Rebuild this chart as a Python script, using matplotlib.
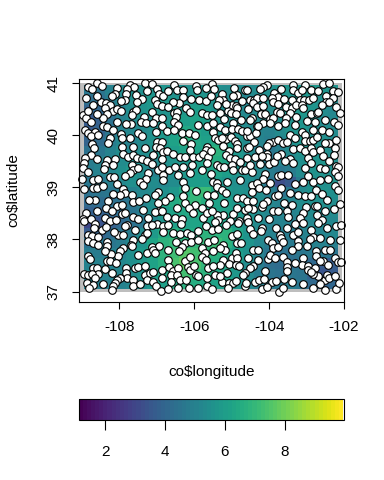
import numpy as np
import matplotlib
matplotlib.use("Agg")
import matplotlib.pyplot as plt
from matplotlib.patches import Rectangle
from matplotlib.cm import ScalarMappable
from matplotlib.colors import Normalize

plt.rcParams['font.family'] = ['Liberation Sans', 'DejaVu Sans']

# surface, north to south
surface = [
 [4.6,4.5,5.0,5.4,5.5,5.5,5.6,5.7,5.5,5.5,5.6,5.6,5.5,5.4,5.4,5.3,5.3,5.5,5.6,5.7,5.7,5.8,5.7,5.6],
 [4.3,4.3,4.8,5.2,5.5,5.6,5.8,5.8,5.6,5.5,5.8,5.8,5.6,5.4,5.3,5.1,5.2,5.5,5.6,5.6,5.7,5.7,5.5,5.3],
 [3.9,4.0,4.6,5.0,5.4,5.6,5.8,5.6,5.6,5.8,6.0,5.9,5.6,5.4,5.3,5.2,5.3,5.4,5.5,5.7,5.8,5.7,5.4,5.2],
 [3.6,3.8,4.4,5.0,5.3,5.5,5.5,5.6,5.8,6.0,6.2,6.0,5.7,5.5,5.4,5.3,5.3,5.3,5.4,5.6,5.7,5.5,5.3,5.2],
 [3.6,3.9,4.6,5.0,5.2,5.3,5.5,5.8,6.0,6.4,6.3,6.0,5.8,5.6,5.5,5.3,5.1,5.0,5.3,5.6,5.7,5.5,5.4,5.3],
 [3.9,4.2,4.8,5.2,5.0,5.3,5.6,5.8,6.2,6.8,6.4,6.1,6.5,6.0,5.6,5.3,5.1,4.9,5.1,5.5,5.7,5.6,5.5,5.3],
 [4.4,4.6,5.0,5.4,5.2,5.4,5.5,5.8,6.0,6.2,6.2,6.3,6.8,6.3,5.8,5.4,4.9,4.6,4.9,5.3,5.6,5.6,5.5,5.4],
 [4.8,5.0,5.2,5.4,5.5,5.4,5.2,5.5,5.7,5.8,6.0,6.3,6.6,6.3,5.8,5.6,5.1,4.8,5.1,5.3,5.5,5.6,5.7,5.5],
 [4.8,5.0,5.2,5.5,5.8,5.4,5.0,5.2,5.5,5.8,6.0,6.2,6.3,6.0,5.7,5.5,5.3,4.8,4.6,4.8,5.3,5.6,5.6,5.5],
 [4.6,4.6,4.9,5.2,5.5,5.6,5.4,5.2,5.4,5.7,6.0,6.0,6.0,5.7,5.5,5.4,5.2,4.5,3.2,3.6,4.8,5.5,5.5,5.6],
 [4.4,4.5,4.6,4.8,5.0,5.2,5.3,5.5,5.8,6.4,7.0,7.1,6.3,5.8,5.6,5.5,5.4,4.9,4.4,4.7,5.3,5.6,5.6,5.5],
 [4.1,4.2,4.3,4.4,4.6,5.0,5.5,6.2,6.5,6.8,7.0,6.6,6.2,6.0,5.8,5.6,5.4,5.2,5.0,5.1,5.4,5.5,5.5,5.4],
 [3.8,3.8,4.0,4.2,4.5,4.8,5.4,5.9,6.2,6.4,6.5,6.3,6.2,6.1,5.8,5.6,5.4,5.2,5.1,5.0,5.2,5.3,5.3,5.3],
 [3.0,3.4,3.8,4.1,4.4,4.6,5.2,5.7,6.1,6.1,6.3,6.3,6.3,6.2,5.9,5.6,5.3,5.0,5.0,4.9,5.1,5.2,5.2,5.2],
 [3.6,3.8,4.2,4.5,4.8,5.3,5.9,6.5,6.7,6.4,6.5,6.8,6.8,6.8,6.3,5.7,5.4,5.0,4.8,4.8,5.0,5.1,5.1,5.2],
 [4.4,4.5,4.6,4.8,5.2,5.7,6.3,6.8,7.0,6.8,7.0,7.0,7.2,6.8,6.2,5.7,5.2,4.8,4.6,4.7,4.9,5.0,5.0,4.9],
 [4.8,4.8,4.9,5.0,5.5,5.9,6.4,6.8,7.2,7.6,7.3,6.9,6.7,6.3,6.0,5.6,5.0,4.6,4.4,4.4,4.6,4.7,4.6,4.5],
 [5.0,5.0,5.0,5.2,5.5,5.8,6.2,6.7,7.4,7.8,7.4,6.9,6.6,6.3,6.0,5.4,4.8,4.3,4.2,4.3,4.4,4.1,3.6,3.7],
 [5.1,5.0,5.0,5.1,5.3,5.6,6.0,6.4,6.9,7.3,7.0,6.8,6.4,6.2,5.8,5.3,4.8,4.5,4.4,4.6,4.5,3.9,3.4,3.6],
 [5.0,4.9,4.9,5.0,5.2,5.4,5.8,6.1,6.5,6.7,6.6,6.4,6.2,6.0,5.6,5.2,4.9,4.7,4.7,4.8,4.6,4.1,3.9,4.0],
]

# (longitude, latitude) of the stations, one list per quarter of the map
stations_nw = [
 (-108.59,41.01),(-108.47,40.95),(-108.83,40.92),(-108.74,40.88),(-108.88,40.71),(-108.07,40.90),(-107.72,40.97),(-107.60,40.92),
 (-107.79,40.88),(-107.31,41.00),(-107.13,40.98),(-106.53,40.97),(-106.45,40.87),(-106.29,40.87),(-106.99,40.88),(-106.93,40.79),
 (-105.96,40.95),(-105.94,40.87),(-108.12,40.79),(-108.20,40.76),(-107.82,40.79),(-107.56,40.77),(-107.85,40.68),(-106.29,40.74),
 (-106.40,40.62),(-106.56,40.63),(-106.83,40.76),(-107.41,40.69),(-107.52,40.63),(-107.05,40.67),(-106.99,40.60),(-106.87,40.56),
 (-105.87,40.68),(-105.70,40.65),(-108.71,40.58),(-108.50,40.63),(-108.37,40.62),(-108.25,40.58),(-108.39,40.52),(-108.16,40.47),
 (-108.06,40.50),(-107.97,40.47),(-108.34,40.40),(-108.45,40.33),(-108.96,40.39),(-108.90,40.34),(-108.77,40.25),(-108.07,40.25),
 (-107.63,40.45),(-107.56,40.49),(-107.67,40.38),(-107.69,40.22),(-107.82,40.21),(-107.34,40.36),(-107.43,40.26),(-107.29,40.23),
 (-107.14,40.44),(-107.02,40.33),(-106.87,40.34),(-107.10,40.23),(-106.87,40.17),(-106.54,40.42),(-106.47,40.44),(-106.49,40.35),
 (-106.54,40.26),(-106.43,40.20),(-106.22,40.52),(-106.12,40.44),(-105.80,40.42),(-105.65,40.39),(-105.89,40.20),(-105.67,40.17),
 (-108.43,40.17),(-108.32,40.15),(-108.16,40.10),(-108.92,40.10),(-108.83,40.04),(-108.65,40.06),(-108.77,39.99),(-108.56,40.01),
 (-107.01,40.07),(-106.74,40.08),(-106.53,40.10),(-106.34,40.04),(-106.13,40.04),(-105.98,40.01),(-107.96,40.03),(-107.94,39.94),
 (-107.50,40.04),(-107.41,39.99),(-107.72,39.94),(-108.25,39.94),(-108.30,39.86),(-107.94,39.78),(-108.74,39.83),(-108.68,39.75),
 (-106.31,39.89),(-106.99,39.88),(-106.87,39.87),(-106.10,39.83),(-106.12,39.72),(-105.65,39.77),(-105.69,39.72),(-107.63,39.78),
 (-107.31,39.76),(-107.01,39.77),(-106.92,39.75),(-107.10,39.62),(-106.83,39.67),(-106.72,39.70),(-106.56,39.65),(-106.38,39.58),
 (-106.25,39.58),(-106.04,39.59),(-105.87,39.58),(-105.76,39.65),(-105.64,39.58),(-108.77,39.62),(-108.92,39.56),(-108.95,39.46),
 (-108.96,39.37),(-108.34,39.53),(-108.12,39.54),(-108.39,39.43),(-108.41,39.35),(-108.16,39.43),(-107.90,39.64),(-107.76,39.59),
 (-107.63,39.62),(-107.54,39.57),(-107.41,39.54),(-107.27,39.51),(-107.14,39.44),(-107.67,39.43),(-107.63,39.33),(-106.96,39.33),
 (-106.87,39.40),(-106.67,39.33),(-106.52,39.40),(-106.43,39.24),(-106.07,39.43),(-105.67,39.46),(-105.80,39.33),(-107.72,39.27),
 (-107.85,39.22),(-107.23,39.27),(-107.29,39.16),(-106.83,39.24),(-106.83,39.14),(-106.12,39.27),(-106.31,39.11),(-108.70,39.14),
 (-108.56,39.17),(-108.25,39.20),(-108.15,39.20),(-109.00,39.17),(-107.45,39.11),(-108.07,39.07),
]
stations_ne = [
 (-105.54,40.99),(-105.47,40.88),(-104.94,40.90),(-104.65,40.87),(-104.58,40.86),(-104.05,40.97),(-104.16,40.93),(-104.25,40.88),
 (-103.37,40.97),(-103.04,40.97),(-102.55,40.99),(-102.39,41.00),(-103.36,40.87),(-103.22,40.81),(-103.13,40.87),(-102.87,40.87),
 (-102.48,40.76),(-102.30,40.85),(-102.15,40.84),(-102.29,40.71),(-103.69,40.88),(-103.87,40.82),(-103.76,40.74),(-103.93,40.71),
 (-105.27,40.79),(-104.87,40.77),(-104.97,40.76),(-105.22,40.67),(-105.33,40.67),(-105.40,40.58),(-104.73,40.66),(-105.00,40.58),
 (-104.89,40.56),(-104.85,40.52),(-104.51,40.67),(-104.41,40.67),(-104.33,40.71),(-104.42,40.61),(-104.32,40.55),(-104.16,40.71),
 (-104.16,40.56),(-103.91,40.63),(-103.40,40.68),(-103.18,40.68),(-103.06,40.68),(-102.93,40.68),(-103.55,40.54),(-103.40,40.52),
 (-103.28,40.58),(-103.13,40.58),(-102.47,40.63),(-102.39,40.63),(-102.22,40.54),(-102.84,40.71),(-104.56,40.50),(-105.30,40.42),
 (-105.09,40.47),(-105.03,40.42),(-105.54,40.39),(-105.49,40.24),(-105.21,40.31),(-104.89,40.40),(-104.23,40.41),(-104.11,40.41),
 (-103.80,40.45),(-103.71,40.42),(-103.44,40.42),(-103.28,40.36),(-102.87,40.40),(-102.73,40.42),(-102.69,40.44),(-102.11,40.42),
 (-104.47,40.33),(-104.51,40.29),(-104.96,40.24),(-104.16,40.23),(-103.98,40.31),(-103.91,40.33),(-103.55,40.33),(-103.31,40.20),
 (-103.58,40.23),(-103.00,40.28),(-102.78,40.26),(-102.27,40.26),(-102.15,40.20),(-103.98,40.23),(-104.33,40.17),(-103.76,40.17),
 (-105.31,40.15),(-105.18,40.10),(-105.00,40.12),(-104.82,40.12),(-104.73,40.08),(-105.49,40.07),(-102.60,40.10),(-102.82,40.10),
 (-102.39,40.07),(-103.11,40.07),(-103.04,40.01),(-103.44,40.01),(-103.04,39.89),(-102.91,39.89),(-102.82,39.91),(-102.71,39.96),
 (-102.39,39.86),(-102.51,39.85),(-102.22,39.91),(-105.45,39.94),(-105.36,39.91),(-105.14,39.92),(-105.03,39.97),(-104.91,39.89),
 (-104.87,39.83),(-104.58,39.99),(-104.51,39.99),(-104.35,40.04),(-104.29,40.17),(-104.41,39.88),(-103.89,39.88),(-104.00,39.86),
 (-103.76,39.91),(-103.64,39.86),(-103.52,39.88),(-105.24,39.80),(-104.87,39.75),(-104.60,39.75),(-104.53,39.77),(-104.07,39.80),
 (-104.26,39.72),(-104.05,39.65),(-104.07,39.58),(-103.36,39.73),(-103.18,39.75),(-103.04,39.70),(-102.88,39.75),(-102.82,39.67),
 (-102.64,39.72),(-102.24,39.75),(-105.06,39.70),(-105.15,39.62),(-105.05,39.56),(-104.91,39.54),(-104.78,39.49),(-104.60,39.56),
 (-104.38,39.58),(-104.20,39.60),(-103.67,39.64),(-103.44,39.54),(-102.95,39.56),(-102.55,39.60),(-102.27,39.62),(-102.87,39.46),
 (-105.40,39.43),(-105.31,39.40),(-105.21,39.40),(-105.00,39.43),(-104.97,39.33),(-104.73,39.33),(-104.65,39.33),(-104.47,39.30),
 (-104.25,39.45),(-104.00,39.45),(-103.87,39.48),(-103.58,39.51),(-103.36,39.46),(-103.04,39.37),(-102.64,39.38),(-102.51,39.35),
 (-102.22,39.41),(-102.15,39.40),(-102.24,39.30),(-104.11,39.26),(-104.16,39.17),(-104.47,39.05),(-104.33,39.08),(-104.78,39.14),
 (-105.49,39.11),(-105.38,39.08),(-105.12,39.11),(-103.76,39.21),(-103.67,39.24),(-103.49,39.24),(-103.98,39.09),(-103.31,39.07),
 (-103.09,39.11),(-102.82,39.10),(-102.64,39.14),(-102.42,39.17),(-102.15,39.21),
]
stations_sw = [
 (-108.95,38.97),(-108.70,38.99),(-108.61,38.99),(-108.45,39.02),(-107.90,38.97),(-107.85,38.89),(-107.98,38.86),(-108.16,38.87),
 (-107.67,38.85),(-107.63,38.72),(-107.47,38.73),(-107.38,39.04),(-106.96,38.91),(-107.05,38.86),(-106.65,38.81),(-106.78,38.73),
 (-106.96,38.70),(-106.25,38.99),(-105.96,38.93),(-106.29,38.83),(-106.25,38.70),(-105.67,38.86),(-108.65,38.76),(-108.80,38.76),
 (-108.30,38.74),(-108.36,38.61),(-108.07,38.65),(-107.94,38.67),(-105.98,38.67),(-105.80,38.60),(-106.13,38.60),(-106.93,38.54),
 (-107.05,38.53),(-106.85,38.55),(-107.38,38.57),(-108.89,38.50),(-108.96,38.40),(-108.95,38.35),(-108.77,38.40),(-108.39,38.41),
 (-108.25,38.36),(-108.10,38.38),(-107.94,38.49),(-107.85,38.51),(-107.63,38.44),(-107.50,38.40),(-107.79,38.28),(-107.23,38.42),
 (-106.99,38.29),(-106.74,38.43),(-106.52,38.41),(-106.34,38.39),(-106.03,38.51),(-105.78,38.42),(-105.67,38.51),(-108.65,38.29),
 (-108.68,38.22),(-108.47,38.19),(-108.36,38.23),(-107.85,38.25),(-107.58,38.19),(-107.25,38.25),(-107.14,38.27),(-106.83,38.25),
 (-106.69,38.27),(-106.83,38.15),(-106.56,38.12),(-106.38,38.10),(-106.20,38.12),(-106.10,38.09),(-105.89,38.17),(-108.83,38.08),
 (-108.74,38.06),(-108.56,38.05),(-108.03,38.09),(-107.90,38.09),(-107.63,37.99),(-107.32,38.09),(-107.27,38.13),(-106.49,37.96),
 (-106.25,37.93),(-106.10,37.96),(-105.89,37.99),(-105.63,37.96),(-108.83,37.97),(-108.70,37.93),(-108.56,37.89),(-108.32,37.96),
 (-108.32,37.87),(-107.70,37.90),(-107.67,37.87),(-107.90,37.83),(-107.99,37.77),(-108.03,37.69),(-108.23,37.72),(-108.39,37.77),
 (-107.14,37.85),(-106.93,37.88),(-107.25,37.74),(-107.10,37.80),(-107.05,37.74),(-106.34,37.85),(-106.40,37.77),(-105.80,37.83),
 (-105.72,37.74),(-108.32,37.59),(-108.25,37.59),(-108.83,37.69),(-108.79,37.63),(-108.71,37.45),(-108.59,37.45),(-108.56,37.33),
 (-108.39,37.44),(-108.21,37.35),(-108.95,37.33),(-108.83,37.32),(-108.74,37.33),(-108.65,37.26),(-108.87,37.16),(-108.71,37.13),
 (-108.80,37.07),(-107.82,37.45),(-107.58,37.46),(-107.50,37.48),(-107.32,37.49),(-107.82,37.35),(-107.79,37.27),(-107.63,37.23),
 (-107.32,37.32),(-107.18,37.35),(-107.10,37.37),(-106.87,37.42),(-106.69,37.61),(-106.67,37.48),(-106.56,37.40),(-106.43,37.45),
 (-106.25,37.58),(-106.16,37.48),(-106.12,37.42),(-106.12,37.67),(-105.80,37.67),(-105.69,37.61),(-106.63,37.32),(-106.47,37.31),
 (-105.96,37.32),(-105.89,37.29),(-107.27,37.23),(-107.10,37.19),(-106.87,37.27),(-106.61,37.19),(-107.99,37.26),(-108.06,37.23),
 (-108.12,37.16),(-108.16,37.10),(-108.19,37.03),(-107.63,37.10),(-107.02,37.10),(-106.89,37.01),(-106.71,37.05),(-106.38,37.23),
 (-106.21,37.23),(-106.43,37.07),(-106.13,37.07),(-105.89,37.07),(-105.67,37.10),(-105.65,37.26),(-105.63,37.45),
]
stations_se = [
 (-105.40,39.00),(-105.27,38.95),(-105.15,38.89),(-105.47,38.86),(-104.87,38.79),(-104.69,38.79),(-104.58,38.74),(-104.42,38.74),
 (-104.47,38.92),(-104.26,38.99),(-104.08,38.95),(-103.69,38.99),(-103.43,38.89),(-103.22,38.86),(-103.04,38.83),(-102.87,38.83),
 (-102.75,38.95),(-102.60,38.87),(-102.24,39.02),(-102.15,38.95),(-104.07,38.73),(-103.84,38.83),(-103.76,38.86),(-103.40,38.67),
 (-103.02,38.63),(-102.78,38.65),(-102.71,38.65),(-102.11,38.68),(-102.51,38.55),(-102.27,38.59),(-104.42,38.59),(-104.65,38.57),
 (-104.56,38.61),(-104.20,38.63),(-104.16,38.68),(-104.96,38.49),(-105.22,38.47),(-105.40,38.47),(-105.36,38.38),(-105.54,38.54),
 (-105.05,38.35),(-104.80,38.36),(-104.60,38.41),(-104.29,38.41),(-103.89,38.54),(-103.76,38.55),(-103.52,38.54),(-103.49,38.44),
 (-103.09,38.51),(-103.18,38.42),(-102.73,38.47),(-102.60,38.38),(-102.69,38.31),(-105.45,38.33),(-105.14,38.27),(-104.82,38.31),
 (-104.56,38.33),(-105.54,38.19),(-105.36,38.20),(-104.20,38.22),(-104.51,38.20),(-104.42,38.10),(-104.23,38.17),(-103.82,38.22),
 (-103.52,38.22),(-103.71,38.09),(-103.67,38.03),(-103.37,38.09),(-103.22,38.15),(-103.09,38.31),(-102.87,38.19),(-102.46,38.22),
 (-102.22,38.25),(-102.07,38.27),(-105.00,38.06),(-105.47,37.99),(-104.02,37.99),(-103.93,37.93),(-103.89,37.83),(-103.76,37.85),
 (-104.02,37.63),(-103.98,37.71),(-104.42,37.80),(-104.29,37.80),(-104.56,37.65),(-104.85,37.93),(-104.76,37.93),(-105.22,37.90),
 (-105.18,37.80),(-105.31,37.83),(-105.49,37.77),(-105.00,37.64),(-104.89,37.74),(-104.87,37.64),(-103.62,37.95),(-103.22,37.97),
 (-103.22,37.87),(-103.00,37.87),(-102.82,38.04),(-102.64,38.03),(-102.38,37.99),(-102.11,37.99),(-102.51,37.80),(-102.38,37.80),
 (-102.75,37.78),(-102.75,37.69),(-103.40,37.80),(-103.62,37.67),(-103.84,37.65),(-103.09,37.65),(-102.55,37.59),(-102.42,37.51),
 (-102.24,37.65),(-103.52,37.57),(-103.52,37.48),(-103.53,37.40),(-103.13,37.51),(-102.95,37.49),(-102.95,37.42),(-102.78,37.45),
 (-102.64,37.58),(-102.15,37.57),(-102.07,37.57),(-105.22,37.61),(-105.31,37.51),(-105.06,37.53),(-104.89,37.51),(-104.80,37.49),
 (-104.44,37.49),(-104.51,37.45),(-104.11,37.40),(-105.45,37.31),(-105.12,37.35),(-104.65,37.35),(-104.69,37.31),(-104.38,37.19),
 (-104.26,37.23),(-104.14,37.24),(-103.93,37.19),(-103.82,37.21),(-103.60,37.25),(-103.40,37.18),(-103.09,37.14),(-102.69,37.29),
 (-102.82,37.33),(-102.51,37.23),(-102.45,37.31),(-102.87,37.37),(-102.39,37.26),(-105.27,37.18),(-105.06,37.17),(-104.96,37.17),
 (-104.89,37.21),(-105.09,37.06),(-104.65,37.10),(-104.62,37.16),(-104.20,37.05),(-104.05,37.08),(-103.73,37.00),(-103.64,37.07),
 (-102.84,37.07),(-102.64,37.14),(-102.51,37.03),(-102.22,37.05),(-102.13,37.16),(-105.54,37.05),
]
# stations in the gaps left by the first reading
stations_extra = [
 (-108.60,40.75),(-108.85,40.47),(-108.60,40.40),(-107.95,40.65),(-107.25,40.85),(-106.70,40.85),(-106.10,40.70),(-106.70,40.55),
 (-105.55,40.75),(-105.70,40.90),(-105.15,40.60),(-104.75,40.30),(-103.60,40.70),(-102.70,40.85),(-102.60,40.58),(-102.50,40.30),
 (-103.10,40.52),(-103.75,40.60),(-104.60,40.08),(-105.25,39.95),(-103.30,39.95),(-102.40,39.50),(-102.95,39.22),(-103.80,39.60),
 (-104.50,39.42),(-105.55,39.70),(-105.55,39.25),(-106.30,39.40),(-106.85,39.55),(-107.50,39.38),(-108.60,39.55),(-108.85,39.30),
 (-108.60,38.55),(-108.20,38.55),(-107.30,38.80),(-106.45,38.60),(-105.60,38.70),(-105.20,38.70),(-104.85,38.60),(-103.60,38.70),
 (-102.45,38.75),(-103.30,38.30),(-104.00,38.40),(-104.85,38.10),(-105.70,38.25),(-106.35,38.30),(-107.40,38.00),(-108.15,38.15),
 (-108.10,37.55),(-107.50,37.70),(-106.70,37.80),(-105.50,37.50),(-105.30,37.30),(-104.30,37.60),(-103.30,37.55),(-102.90,38.00),
 (-102.25,37.30),(-106.00,37.50),(-107.45,37.15),(-108.45,37.15),
]

x_ticks = [-108, -106, -104, -102]
y_ticks = [37, 38, 39, 40, 41]
bar_ticks = [2, 4, 6, 8]
value_min, value_max = 1.107, 9.97

W, H = 384, 480
fig = plt.figure(figsize=(W / 100, H / 100), dpi=100)
ax = fig.add_axes([79 / W, 1 - 302 / H, 265 / W, 223 / H])

values = np.array(surface)
lon_edges = np.linspace(-108.95, -102.15, values.shape[1] + 1)
lat_edges = np.linspace(37.05, 40.97, values.shape[0] + 1)

norm = Normalize(value_min, value_max)
ax.add_patch(Rectangle((-109.08, 37.0), 7.03, 4.0, color='#bebebe', lw=0, zorder=0))
ax.pcolormesh(lon_edges, lat_edges, values[::-1], cmap='viridis', norm=norm, zorder=1)

points = np.array(stations_nw + stations_ne + stations_sw + stations_se + stations_extra)
ax.scatter(points[:, 0], points[:, 1], s=30, c='white', edgecolors='black', linewidths=0.8, zorder=2, clip_on=False)

ax.set_xlim(-109.08, -102.0)
ax.set_ylim(36.80, 41.08)
ax.set_xticks(x_ticks)
ax.set_yticks(y_ticks)
ax.set_xticklabels([str(t) for t in x_ticks], fontsize=11)
ax.set_yticklabels([str(t) for t in y_ticks], fontsize=11, rotation=90, va='center')
ax.tick_params(length=5, width=0.8, pad=8)
ax.set_xlabel(r'co\$longitude', fontsize=11, labelpad=22)
ax.set_ylabel(r'co\$latitude', fontsize=11, labelpad=19)

cax = fig.add_axes([78.5 / W, 1 - 420 / H, 265 / W, 21 / H])
sm = ScalarMappable(norm=norm, cmap=plt.get_cmap('viridis', 64))
bar = fig.colorbar(sm, cax=cax, orientation='horizontal')
bar.set_ticks(bar_ticks)
bar.ax.tick_params(length=7, width=0.8, pad=11, labelsize=11)
bar.outline.set_linewidth(0.8)
bar.ax.minorticks_off()

fig.savefig('out.png', dpi=100)
